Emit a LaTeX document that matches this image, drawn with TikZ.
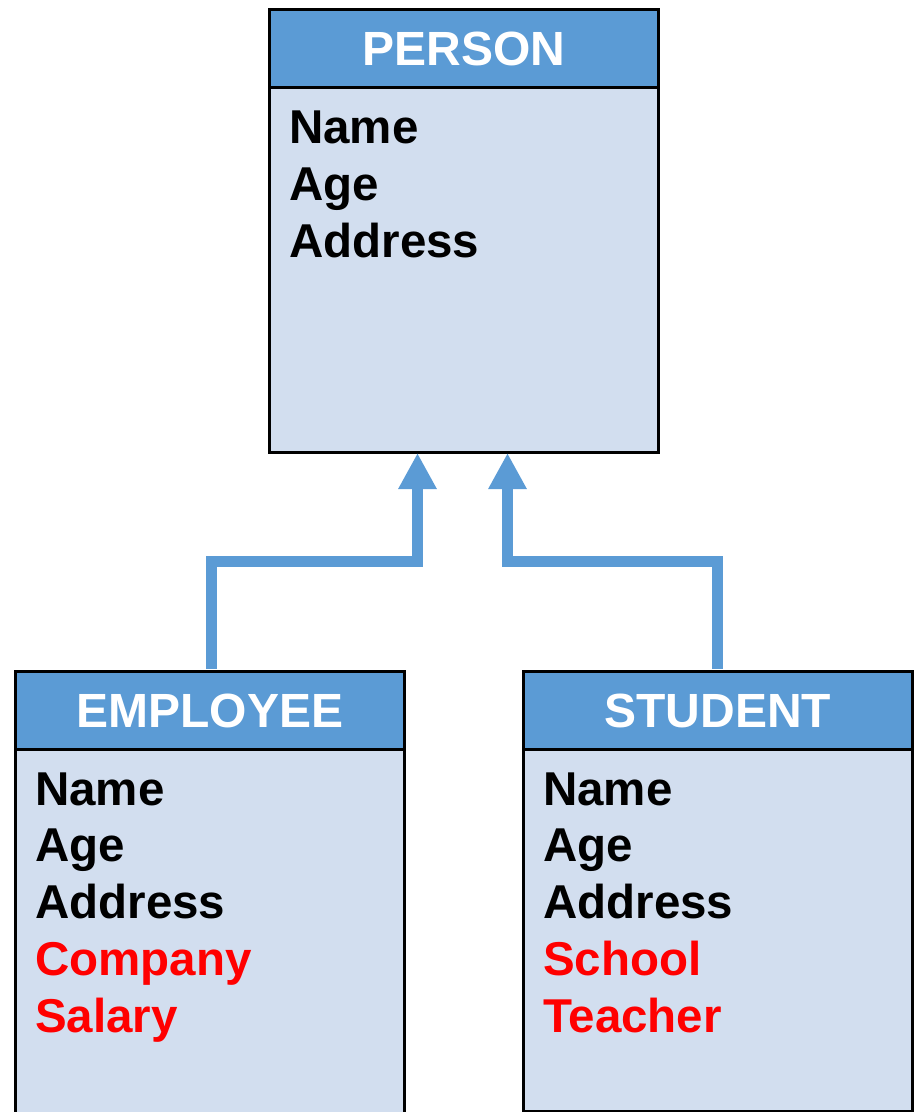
\documentclass[tikz,border=0pt]{standalone}
\usepackage{fontspec}
\setmainfont{Liberation Sans}
\usepackage{xcolor}
\usepackage{tikz}
\usetikzlibrary{arrows.meta}
\usetikzlibrary{positioning}

\definecolor{headblue}{HTML}{5B9BD5}
\definecolor{bodyblue}{HTML}{D2DEEF}
\definecolor{attrred}{HTML}{FF0000}

\tikzset{
  head/.style = {rectangle, draw=black, line width=2.5pt, fill=headblue,
                 minimum width=389pt, minimum height=78pt, inner sep=0pt,
                 text=white, font=\fontsize{48}{56}\selectfont\bfseries,
                 text height=34pt, text depth=0pt},
  body/.style = {rectangle, draw=black, line width=2.5pt, fill=bodyblue,
                 minimum width=389pt, inner sep=0pt},
  attr/.style = {inner sep=0pt, anchor=base west,
                 font=\fontsize{47.5}{57}\selectfont\bfseries},
  isa/.style  = {draw=headblue, line width=11pt, line join=miter,
                 shorten <=1.5pt, -{Triangle[length=36pt, width=36pt]}}
}

\begin{document}
\begin{tikzpicture}[x=1pt, y=-1pt]
\useasboundingbox (0,0) rectangle (914,1112);

% the three classes
\node [body, anchor=north west, minimum height=365pt] (PB) at (268,86) {};
\node [head, anchor=north west] (PH) at (268,8) {PERSON};
\node [body, anchor=north west, minimum height=365pt] (EB) at (14,748) {};
\node [head, anchor=north west] (EH) at (14,670) {EMPLOYEE};
\node [body, anchor=north west, minimum height=362pt] (SB) at (522,748) {};
\node [head, anchor=north west] (SH) at (522,670) {STUDENT};

% attributes
\foreach \t [count=\i] in {Name, Age, Address}
  \node [attr] (p\i) at (289, {143+57*(\i-1)}) {\t};
\foreach \t/\c [count=\i] in {Name/black, Age/black, Address/black,
                              Company/attrred, Salary/attrred}
  \node [attr, text=\c] (e\i) at (35, {805+56.8*(\i-1)}) {\t};
\foreach \t/\c [count=\i] in {Name/black, Age/black, Address/black,
                              School/attrred, Teacher/attrred}
  \node [attr, text=\c] (s\i) at (543, {805+56.8*(\i-1)}) {\t};

% inheritance arrows
\coordinate (ebend) at (417.5,561.5);
\coordinate (etip) at (417.5,453);
\coordinate (sbend) at (507.5,561.5);
\coordinate (stip) at (507.5,453);
\draw [isa] ([xshift=2pt]EH.north) |- (ebend) -- (etip);
\draw [isa] ([xshift=-0.5pt]SH.north) |- (sbend) -- (stip);
\end{tikzpicture}
\end{document}
